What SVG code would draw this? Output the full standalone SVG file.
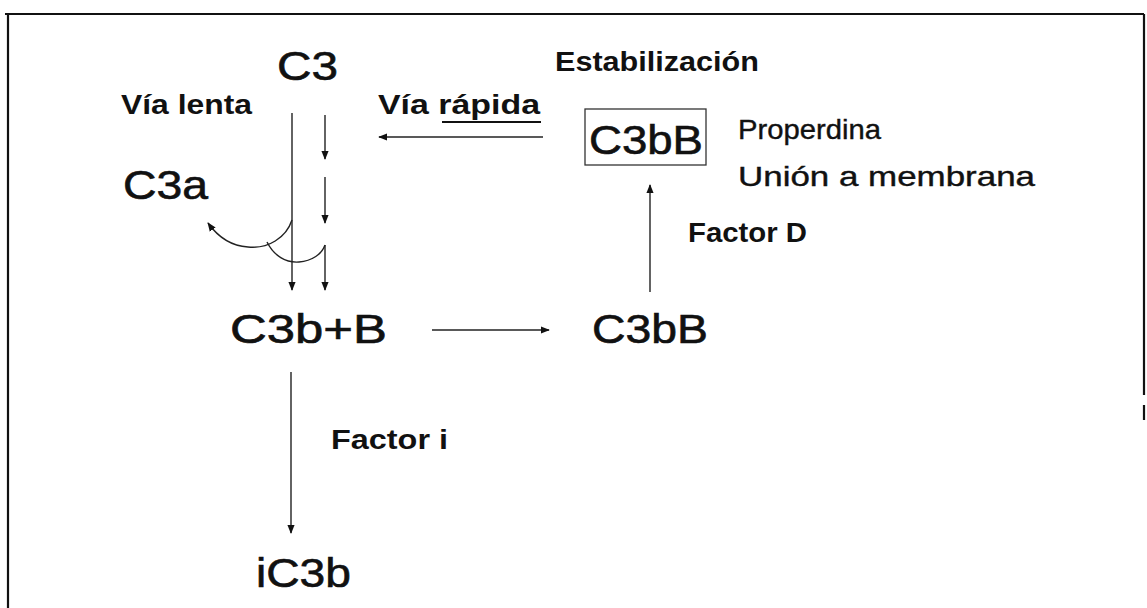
<svg xmlns="http://www.w3.org/2000/svg" width="1147" height="608" viewBox="0 0 1147 608">
<style>
.big{font-family:"Liberation Sans",Arial,sans-serif;font-size:40px;fill:#111;stroke:#111;stroke-width:0.6}
.lbl{font-family:"Liberation Sans",Arial,sans-serif;font-size:27px;font-weight:bold;fill:#111}
.reg{font-family:"Liberation Sans",Arial,sans-serif;font-size:28px;fill:#111;stroke:#111;stroke-width:0.4}
.ln{stroke:#222;stroke-width:1.4;fill:none}
.frame{stroke:#111;stroke-width:2.2;fill:none}
</style>
<defs>
<marker id="ah" viewBox="0 0 10 10" refX="9" refY="5" markerWidth="9" markerHeight="9" markerUnits="userSpaceOnUse" orient="auto">
<path d="M0,1 L10,5 L0,9 z" fill="#111"/>
</marker>
</defs>
<g id="frame">
<path class="frame" d="M5,14 H1144 M8,14 V608 M1144,14 V395 M1144,405 V420"/>
</g>
<g id="n-c3"><text class="big" x="277" y="80" textLength="61" lengthAdjust="spacingAndGlyphs">C3</text></g>
<g id="n-estab"><text class="lbl" x="555" y="71" textLength="204" lengthAdjust="spacingAndGlyphs">Estabilización</text></g>
<g id="n-vialenta"><text class="lbl" x="121" y="114" textLength="131" lengthAdjust="spacingAndGlyphs">Vía lenta</text></g>
<g id="n-viarapida"><text class="lbl" x="378" y="114" textLength="162" lengthAdjust="spacingAndGlyphs">Vía rápida</text>
<line x1="442" y1="122" x2="541" y2="122" stroke="#111" stroke-width="2"/></g>
<g id="n-c3bb-box"><rect x="585" y="109" width="121" height="56" fill="none" stroke="#333" stroke-width="1.3"/>
<text class="big" x="589" y="154" textLength="114" lengthAdjust="spacingAndGlyphs">C3bB</text></g>
<g id="n-properdina"><text class="reg" x="738" y="139" textLength="143" lengthAdjust="spacingAndGlyphs">Properdina</text></g>
<g id="n-union"><text class="reg" x="738" y="186" textLength="297" lengthAdjust="spacingAndGlyphs">Unión a membrana</text></g>
<g id="n-c3a"><text class="big" x="123" y="199" textLength="85" lengthAdjust="spacingAndGlyphs">C3a</text></g>
<g id="n-factord"><text class="lbl" x="688" y="242" textLength="119" lengthAdjust="spacingAndGlyphs">Factor D</text></g>
<g id="n-c3bplusb"><text class="big" x="230" y="343" textLength="157" lengthAdjust="spacingAndGlyphs">C3b+B</text></g>
<g id="n-c3bb"><text class="big" x="592" y="343" textLength="116" lengthAdjust="spacingAndGlyphs">C3bB</text></g>
<g id="n-factori"><text class="lbl" x="331" y="449" textLength="117" lengthAdjust="spacingAndGlyphs">Factor i</text></g>
<g id="n-ic3b"><text class="big" x="256" y="587" textLength="95" lengthAdjust="spacingAndGlyphs">iC3b</text></g>
<g id="connectors">
<path class="ln" d="M543,137 H379" marker-end="url(#ah)"/>
<path class="ln" d="M292,113 V290" marker-end="url(#ah)"/>
<path class="ln" d="M325,115 V159" marker-end="url(#ah)"/>
<path class="ln" d="M325,177 V223" marker-end="url(#ah)"/>
<path class="ln" d="M325,245 V290" marker-end="url(#ah)"/>
<path class="ln" d="M292,220 C286,238 268,249 248,247 C232,246 218,237 208,223" marker-end="url(#ah)"/>
<path class="ln" d="M267,242 C274,256 286,263 299,262 C312,261 322,254 325,245"/>
<path class="ln" d="M432,330 H549" marker-end="url(#ah)"/>
<path class="ln" d="M650,292 V185" marker-end="url(#ah)"/>
<path class="ln" d="M291,372 V533" marker-end="url(#ah)"/>
</g>
</svg>
